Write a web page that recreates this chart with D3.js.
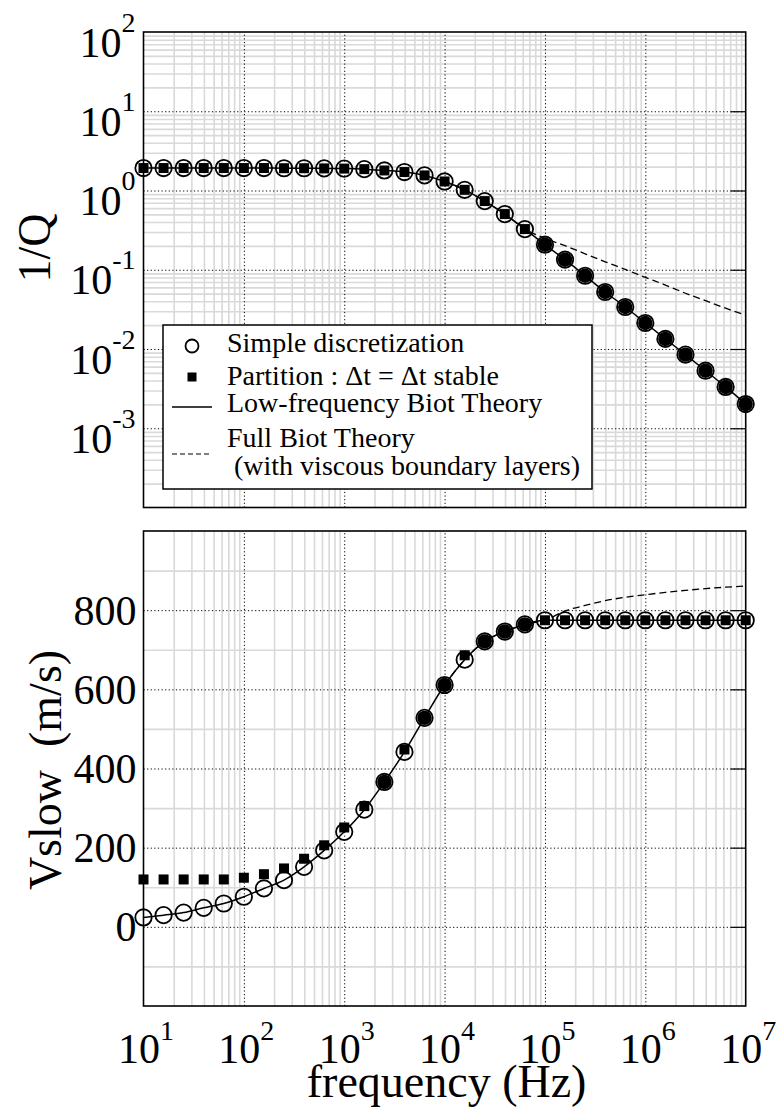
<!DOCTYPE html>
<html>
<head>
<meta charset="utf-8">
<script src="https://cdn.jsdelivr.net/npm/d3@7"></script>
<style>
  html, body { margin: 0; padding: 0; background: #fff; }
  svg, svg text { font-family: "Liberation Serif", "Times New Roman", serif; }
  svg { display: block; }
</style>
</head>
<body>
<svg id="chart" width="778" height="1116"></svg>
<script>
// ---- data -------------------------------------------------------------
// Sampled frequencies (Hz)
const frequency = [10, 15.85, 25.12, 39.81, 63.10, 100, 158.5, 251.2, 398.1, 631.0,
  1000, 1585, 2512, 3981, 6310, 10000, 15850, 25120, 39810, 63100,
  100000, 158500, 251200, 398100, 631000, 1000000, 1585000, 2512000, 3981000, 6310000, 10000000];

// Attenuation 1/Q
const invQSimple = [1.92, 1.92, 1.92, 1.92, 1.92, 1.92, 1.92, 1.91, 1.91, 1.90,
  1.89, 1.86, 1.79, 1.71, 1.55, 1.30, 1.02, 0.735, 0.504, 0.326,
  0.207, 0.134, 0.084, 0.0524, 0.0339, 0.0213, 0.0134, 0.00848, 0.00532, 0.00332, 0.00202];
const invQPartition = [1.92, 1.92, 1.92, 1.92, 1.92, 1.92, 1.92, 1.91, 1.91, 1.90,
  1.89, 1.86, 1.79, 1.71, 1.55, 1.30, 1.02, 0.735, 0.504, 0.326,
  0.207, 0.134, 0.084, 0.0524, 0.0339, 0.0213, 0.0134, 0.00848, 0.00532, 0.00332, 0.00202];
const invQDiscFreq = [100000, 158500, 251200, 398100, 631000, 1000000, 1585000, 2512000, 3981000, 6310000, 10000000];
const invQDisc = [0.207, 0.134, 0.084, 0.0524, 0.0339, 0.0213, 0.0134, 0.00848, 0.00532, 0.00332, 0.00202];
const invQLowFreqTheory = [1.92, 1.92, 1.92, 1.92, 1.92, 1.92, 1.92, 1.91, 1.91, 1.90,
  1.89, 1.86, 1.79, 1.71, 1.55, 1.30, 1.02, 0.735, 0.504, 0.326,
  0.207, 0.134, 0.084, 0.0524, 0.0339, 0.0213, 0.0134, 0.00848, 0.00532, 0.00332, 0.00202];
const fullTheoryFreq = [10000, 15850, 25120, 39810, 63100,
  100000, 158500, 251200, 398100, 631000, 1000000, 1585000, 2512000, 3981000, 6310000, 10000000];
const invQFullTheory = [1.30, 1.02, 0.735, 0.504, 0.326,
  0.249, 0.201, 0.159, 0.126, 0.101, 0.0802, 0.0641, 0.0505, 0.0407, 0.0327, 0.0267];

// Slow-wave velocity (m/s)
const vSimple = [23.7, 29.5, 36, 48, 59, 76, 97, 118, 151.5, 193,
  240, 296, 366, 442, 528, 611, 675, 721, 746, 764,
  774.5, 774.5, 774.5, 774.5, 774.5, 774.5, 774.5, 774.5, 774.5, 774.5, 774.5];
const vPartition = [119.7, 119.7, 119.7, 119.7, 119.7, 124, 133, 147.5, 172, 206,
  251, 305, 366, 448, 528, 611, 686, 721, 746, 764,
  774.5, 774.5, 774.5, 774.5, 774.5, 774.5, 774.5, 774.5, 774.5, 774.5, 774.5];
const vDiscFreq = [2512, 6310, 10000, 25120, 39810, 63100];
const vDisc = [366, 528, 611, 721, 746, 764];
const vLowFreqTheory = [23.7, 29.5, 36, 48, 59, 76, 97, 118, 151.5, 193,
  240, 296, 366, 442, 528, 611, 675, 721, 746, 764,
  774.5, 774.5, 774.5, 774.5, 774.5, 774.5, 774.5, 774.5, 774.5, 774.5, 774.5];
const vFullTheory = [611, 675, 721, 746, 764,
  774.5, 798, 812, 824, 832.6, 839, 845, 850, 854.5, 858, 861];

// Axis ticks
const xExponents = [1, 2, 3, 4, 5, 6, 7];
const invQExponents = [2, 1, 0, -1, -2, -3];
const vTicks = [0, 200, 400, 600, 800];
const vMinorTicks = [-100, 100, 300, 500, 700, 900];

const legendLabels = ["Simple discretization", "Partition : \u0394t = \u0394t stable",
  "Low-frequency Biot Theory", "Full Biot Theory", " (with viscous boundary layers)"];

// ---- layout -----------------------------------------------------------
const FONT = "Liberation Serif";
const svg = d3.select("#chart");
const left = 143.5, right = 745.7;
const topPanel = { top: 32, bottom: 507.5 };
const botPanel = { top: 531, bottom: 1006 };

const x = d3.scaleLog().domain([10, 1e7]).range([left, right]);
const yQ = d3.scaleLog().domain([1e-4, 1e2]).range([topPanel.bottom, topPanel.top]);
const yV = d3.scaleLinear().domain([-200, 1000]).range([botPanel.bottom, botPanel.top]);

const decadeMinor = (e0, e1) => d3.range(e0, e1).flatMap(e => d3.range(2, 10).map(m => m * Math.pow(10, e)));
const xMinor = decadeMinor(1, 7);
const xMajorInner = [1e2, 1e3, 1e4, 1e5, 1e6];

const GRID_GRAY = "#d9d9d9";

function styleGrid(sel, color, width, dash) {
  sel.select(".domain").remove();
  sel.selectAll("line").attr("stroke", color).attr("stroke-width", width)
    .attr("stroke-dasharray", dash || null);
}

function drawPanel(y, p, yMinor, yMajor) {
  const h = p.bottom - p.top;
  const g = svg.append("g");
  // light minor grid
  g.append("g").attr("transform", `translate(0,${p.bottom})`)
    .call(d3.axisBottom(x).tickValues(xMinor).tickSize(-h).tickFormat(""))
    .call(s => styleGrid(s, GRID_GRAY, 1.6));
  g.append("g").attr("transform", `translate(${left},0)`)
    .call(d3.axisLeft(y).tickValues(yMinor).tickSize(-(right - left)).tickFormat(""))
    .call(s => styleGrid(s, GRID_GRAY, 1.6));
  // dotted major grid
  g.append("g").attr("transform", `translate(0,${p.bottom})`)
    .call(d3.axisBottom(x).tickValues(xMajorInner).tickSize(-h).tickFormat(""))
    .call(s => styleGrid(s, "#000", 1, "1.2,2.4"));
  g.append("g").attr("transform", `translate(${left},0)`)
    .call(d3.axisLeft(y).tickValues(yMajor).tickSize(-(right - left)).tickFormat(""))
    .call(s => styleGrid(s, "#000", 1, "1.2,2.4"));
  // short inner ticks on the right edge
  g.append("g").attr("transform", `translate(${right},0)`)
    .call(d3.axisRight(y).tickValues(yMajor).tickSize(-15).tickFormat(""))
    .call(s => styleGrid(s, "#000", 1.2));
  // frame
  g.append("rect").attr("x", left).attr("y", p.top)
    .attr("width", right - left).attr("height", h)
    .attr("fill", "none").attr("stroke", "#000").attr("stroke-width", 1.6);
  return g;
}

function drawSeries(g, y, theoryX, theoryY, fullX, fullY, discX, discY, sqY, circY) {
  const line = d3.line().x(d => x(d[0])).y(d => y(d[1])).curve(d3.curveMonotoneX);
  g.append("path").datum(d3.zip(fullX, fullY)).attr("d", line)
    .attr("fill", "none").attr("stroke", "#000").attr("stroke-width", 1.3)
    .attr("stroke-dasharray", "7,4");
  g.append("path").datum(d3.zip(theoryX, theoryY)).attr("d", line)
    .attr("fill", "none").attr("stroke", "#000").attr("stroke-width", 1.5);
  g.append("g").selectAll("circle").data(d3.zip(discX, discY)).join("circle")
    .attr("cx", d => x(d[0])).attr("cy", d => y(d[1])).attr("r", 7.2).attr("fill", "#000");
  const s = 10;
  g.append("g").selectAll("rect").data(d3.zip(frequency, sqY)).join("rect")
    .attr("x", d => x(d[0]) - s / 2).attr("y", d => y(d[1]) - s / 2)
    .attr("width", s).attr("height", s).attr("fill", "#000");
  g.append("g").selectAll("circle").data(d3.zip(frequency, circY)).join("circle")
    .attr("cx", d => x(d[0])).attr("cy", d => y(d[1])).attr("r", 8.2)
    .attr("fill", "none").attr("stroke", "#000").attr("stroke-width", 1.8);
}

// ---- top panel: 1/Q ---------------------------------------------------
const gTop = drawPanel(yQ, topPanel, decadeMinor(-4, 2), [1e1, 1, 1e-1, 1e-2, 1e-3]);
drawSeries(gTop, yQ, frequency, invQLowFreqTheory, fullTheoryFreq, invQFullTheory,
  invQDiscFreq, invQDisc, invQPartition, invQSimple);

// ---- bottom panel: Vslow ----------------------------------------------
const gBot = drawPanel(yV, botPanel, vMinorTicks, vTicks);
drawSeries(gBot, yV, frequency, vLowFreqTheory, fullTheoryFreq, vFullTheory,
  vDiscFreq, vDisc, vPartition, vSimple);

// ---- tick labels ------------------------------------------------------
function powerLabel(sel, supSize, rise) {
  sel.each(function (d) {
    const t = d3.select(this);
    const e = Math.round(Math.log10(d));
    t.text(null);
    t.append("tspan").text("10");
    t.append("tspan").attr("dy", -rise).attr("font-size", supSize).text(String(e));
  });
}

function labelAxis(sel) {
  sel.select(".domain").remove();
  sel.attr("font-size", null).attr("font-family", FONT);
  sel.selectAll(".tick text").attr("font-family", FONT).attr("font-size", 42).attr("fill", "#000");
}

svg.append("g").attr("transform", `translate(${left},0)`)
  .call(d3.axisLeft(yQ).tickValues(invQExponents.map(e => Math.pow(10, e))).tickSize(0).tickPadding(8).tickFormat(""))
  .call(labelAxis)
  .call(s => s.selectAll(".tick text").attr("dy", 24).call(powerLabel, 28, 25));

svg.append("g").attr("transform", `translate(${left},0)`)
  .call(d3.axisLeft(yV).tickValues(vTicks).tickSize(0).tickPadding(7))
  .call(labelAxis)
  .call(s => s.selectAll(".tick text").attr("dy", 14));

svg.append("g").attr("transform", `translate(2,${botPanel.bottom})`)
  .call(d3.axisBottom(x).tickValues(xExponents.map(e => Math.pow(10, e))).tickSize(0).tickFormat(""))
  .call(labelAxis)
  .call(s => s.selectAll(".tick text").attr("y", 57).attr("dy", 0).call(powerLabel, 28, 23));

// ---- axis titles ------------------------------------------------------
svg.append("text").attr("x", (left + right) / 2 + 2).attr("y", 1097)
  .attr("font-family", FONT).attr("text-anchor", "middle").attr("font-size", 46).text("frequency (Hz)");
svg.append("text").attr("transform", "translate(50,248) rotate(-90)")
  .attr("font-family", FONT).attr("text-anchor", "middle").attr("font-size", 46).text("1/Q");
svg.append("text").attr("transform", "translate(61,770) rotate(-90)")
  .attr("font-family", FONT).attr("text-anchor", "middle").attr("font-size", 46)
  .style("white-space", "pre").text("Vslow  (m/s)");

// ---- legend -----------------------------------------------------------
const lg = svg.append("g");
lg.append("rect").attr("x", 163).attr("y", 325).attr("width", 429).attr("height", 164)
  .attr("fill", "#fff").attr("stroke", "#000").attr("stroke-width", 1.5);
lg.append("circle").attr("cx", 192).attr("cy", 346).attr("r", 6.5)
  .attr("fill", "none").attr("stroke", "#000").attr("stroke-width", 1.8);
lg.append("rect").attr("x", 187.5).attr("y", 372.5).attr("width", 9).attr("height", 9).attr("fill", "#000");
lg.append("line").attr("x1", 172).attr("x2", 212).attr("y1", 407).attr("y2", 407)
  .attr("stroke", "#000").attr("stroke-width", 1.3);
lg.append("line").attr("x1", 172).attr("x2", 212).attr("y1", 454).attr("y2", 454)
  .attr("stroke", "#000").attr("stroke-width", 1.2).attr("stroke-dasharray", "5,3");
const legendRows = [[227, 352], [227, 385], [227, 412], [227, 447], [227, 475]];
lg.selectAll("text.lab").data(legendLabels).join("text").attr("class", "lab")
  .attr("font-family", FONT)
  .attr("x", (d, i) => legendRows[i][0]).attr("y", (d, i) => legendRows[i][1])
  .attr("font-size", 28).style("white-space", "pre").text(d => d);
</script>
</body>
</html>
